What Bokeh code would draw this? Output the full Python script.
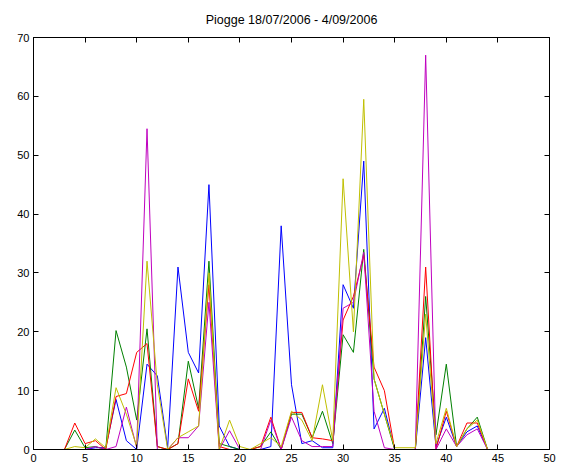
from bokeh.plotting import figure
from bokeh.models import LinearAxis, FixedTicker, Range1d
from bokeh.embed import file_html
from bokeh.resources import INLINE

days = list(range(3, 45))

blue = [0, 0, 0, 0.3, 0.3, 8.5, 1.5, 0, 14.5, 12.5, 0.3, 31, 16.5, 13, 45, 4, 0.5, 0, 0, 0,
        0.5, 38, 11, 1, 1.5, 0.3, 0.3, 28, 24, 49, 3.5, 7, 0, 0, 0, 19, 0.5, 5.5, 0.5, 3, 4, 0]
green = [0, 3.3, 0.3, 0.5, 0, 20.2, 14, 5, 20.5, 0.5, 0, 1, 15, 7, 32, 1, 0.5, 0, 0, 0.5,
         3, 0, 6, 6, 2, 6.5, 1, 19.5, 16.5, 34, 12, 6, 0, 0, 0, 26, 2.5, 14.5, 0.5, 3.5, 5.5, 0]
red = [0, 4.5, 1, 1.5, 0, 9, 9.5, 16.5, 18, 0.5, 0, 1, 12, 6.5, 28, 0.5, 0, 0, 0, 0.5,
       5.5, 0, 6.3, 6.3, 2, 1.8, 1.5, 22, 26, 33, 14, 10, 0, 0, 0, 31, 0, 6.5, 0.5, 4.5, 4.5, 0]
magenta = [0, 0, 0, 0.5, 0, 0.5, 7.2, 0.3, 54.5, 0, 0, 2, 2, 4, 25, 0, 3.2, 0, 0, 0,
           5, 0, 5.5, 1.5, 0.5, 0.5, 0.5, 24, 25, 33.5, 6.5, 0.3, 0, 0, 0, 67, 0, 3.5, 0.5, 2.5, 3.5, 0]
yellow = [0, 0.5, 0.3, 1.8, 0.3, 10.5, 6, 0.5, 32, 11, 0, 2, 3, 4, 30, 0, 5, 0.5, 0, 1,
          2, 0.5, 6.5, 5, 1.5, 11, 1.5, 46, 20, 59.5, 12, 6, 0.3, 0.3, 0.3, 23, 1, 7, 0.5, 3.5, 5, 0]

x_ticks = [0, 5, 10, 15, 20, 25, 30, 35, 40, 45, 50]
y_ticks = [0, 10, 20, 30, 40, 50, 60, 70]

series = [(blue, "#0000ff"), (green, "#008000"), (red, "#ff0000"),
          (magenta, "#bf00bf"), (yellow, "#bfbf00")]

p = figure(width=566, height=470, output_backend="svg", toolbar_location=None,
           x_range=Range1d(0, 50), y_range=Range1d(0, 70),
           min_border_left=33, min_border_right=17, min_border_top=37, min_border_bottom=21,
           title="Piogge 18/07/2006 - 4/09/2006")
p.title.align = "center"
p.title.text_font = "Liberation Sans"
p.title.text_font_size = "12.5px"
p.title.text_font_style = "normal"
p.title.text_color = "#000000"
p.title.standoff = 21
p.background_fill_color = "white"
p.border_fill_color = "white"
p.outline_line_color = "black"
p.outline_line_width = 1
p.xgrid.visible = False
p.ygrid.visible = False

for ax in (p.xaxis[0], p.yaxis[0]):
    ax.major_tick_in = 5
    ax.major_tick_out = 0
    ax.minor_tick_line_color = None
    ax.major_label_text_font = "Liberation Sans"
    ax.major_label_text_font_size = "11px"
    ax.major_label_text_color = "#000000"
    ax.axis_line_color = "black"
    ax.major_tick_line_color = "black"
    ax.major_label_standoff = 4
p.xaxis[0].ticker = FixedTicker(ticks=x_ticks)
p.yaxis[0].ticker = FixedTicker(ticks=y_ticks)

top = LinearAxis(ticker=FixedTicker(ticks=x_ticks))
right = LinearAxis(ticker=FixedTicker(ticks=y_ticks))
for ax in (top, right):
    ax.major_tick_in = 5
    ax.major_tick_out = 0
    ax.minor_tick_line_color = None
    ax.major_label_text_font_size = "0px"
    ax.major_label_standoff = 0
    ax.major_label_text_color = None
p.add_layout(top, "above")
p.add_layout(right, "right")

for vals, col in series:
    p.line(days, vals, line_color=col, line_width=1)

open("out.html", "w").write(file_html(p, INLINE))
